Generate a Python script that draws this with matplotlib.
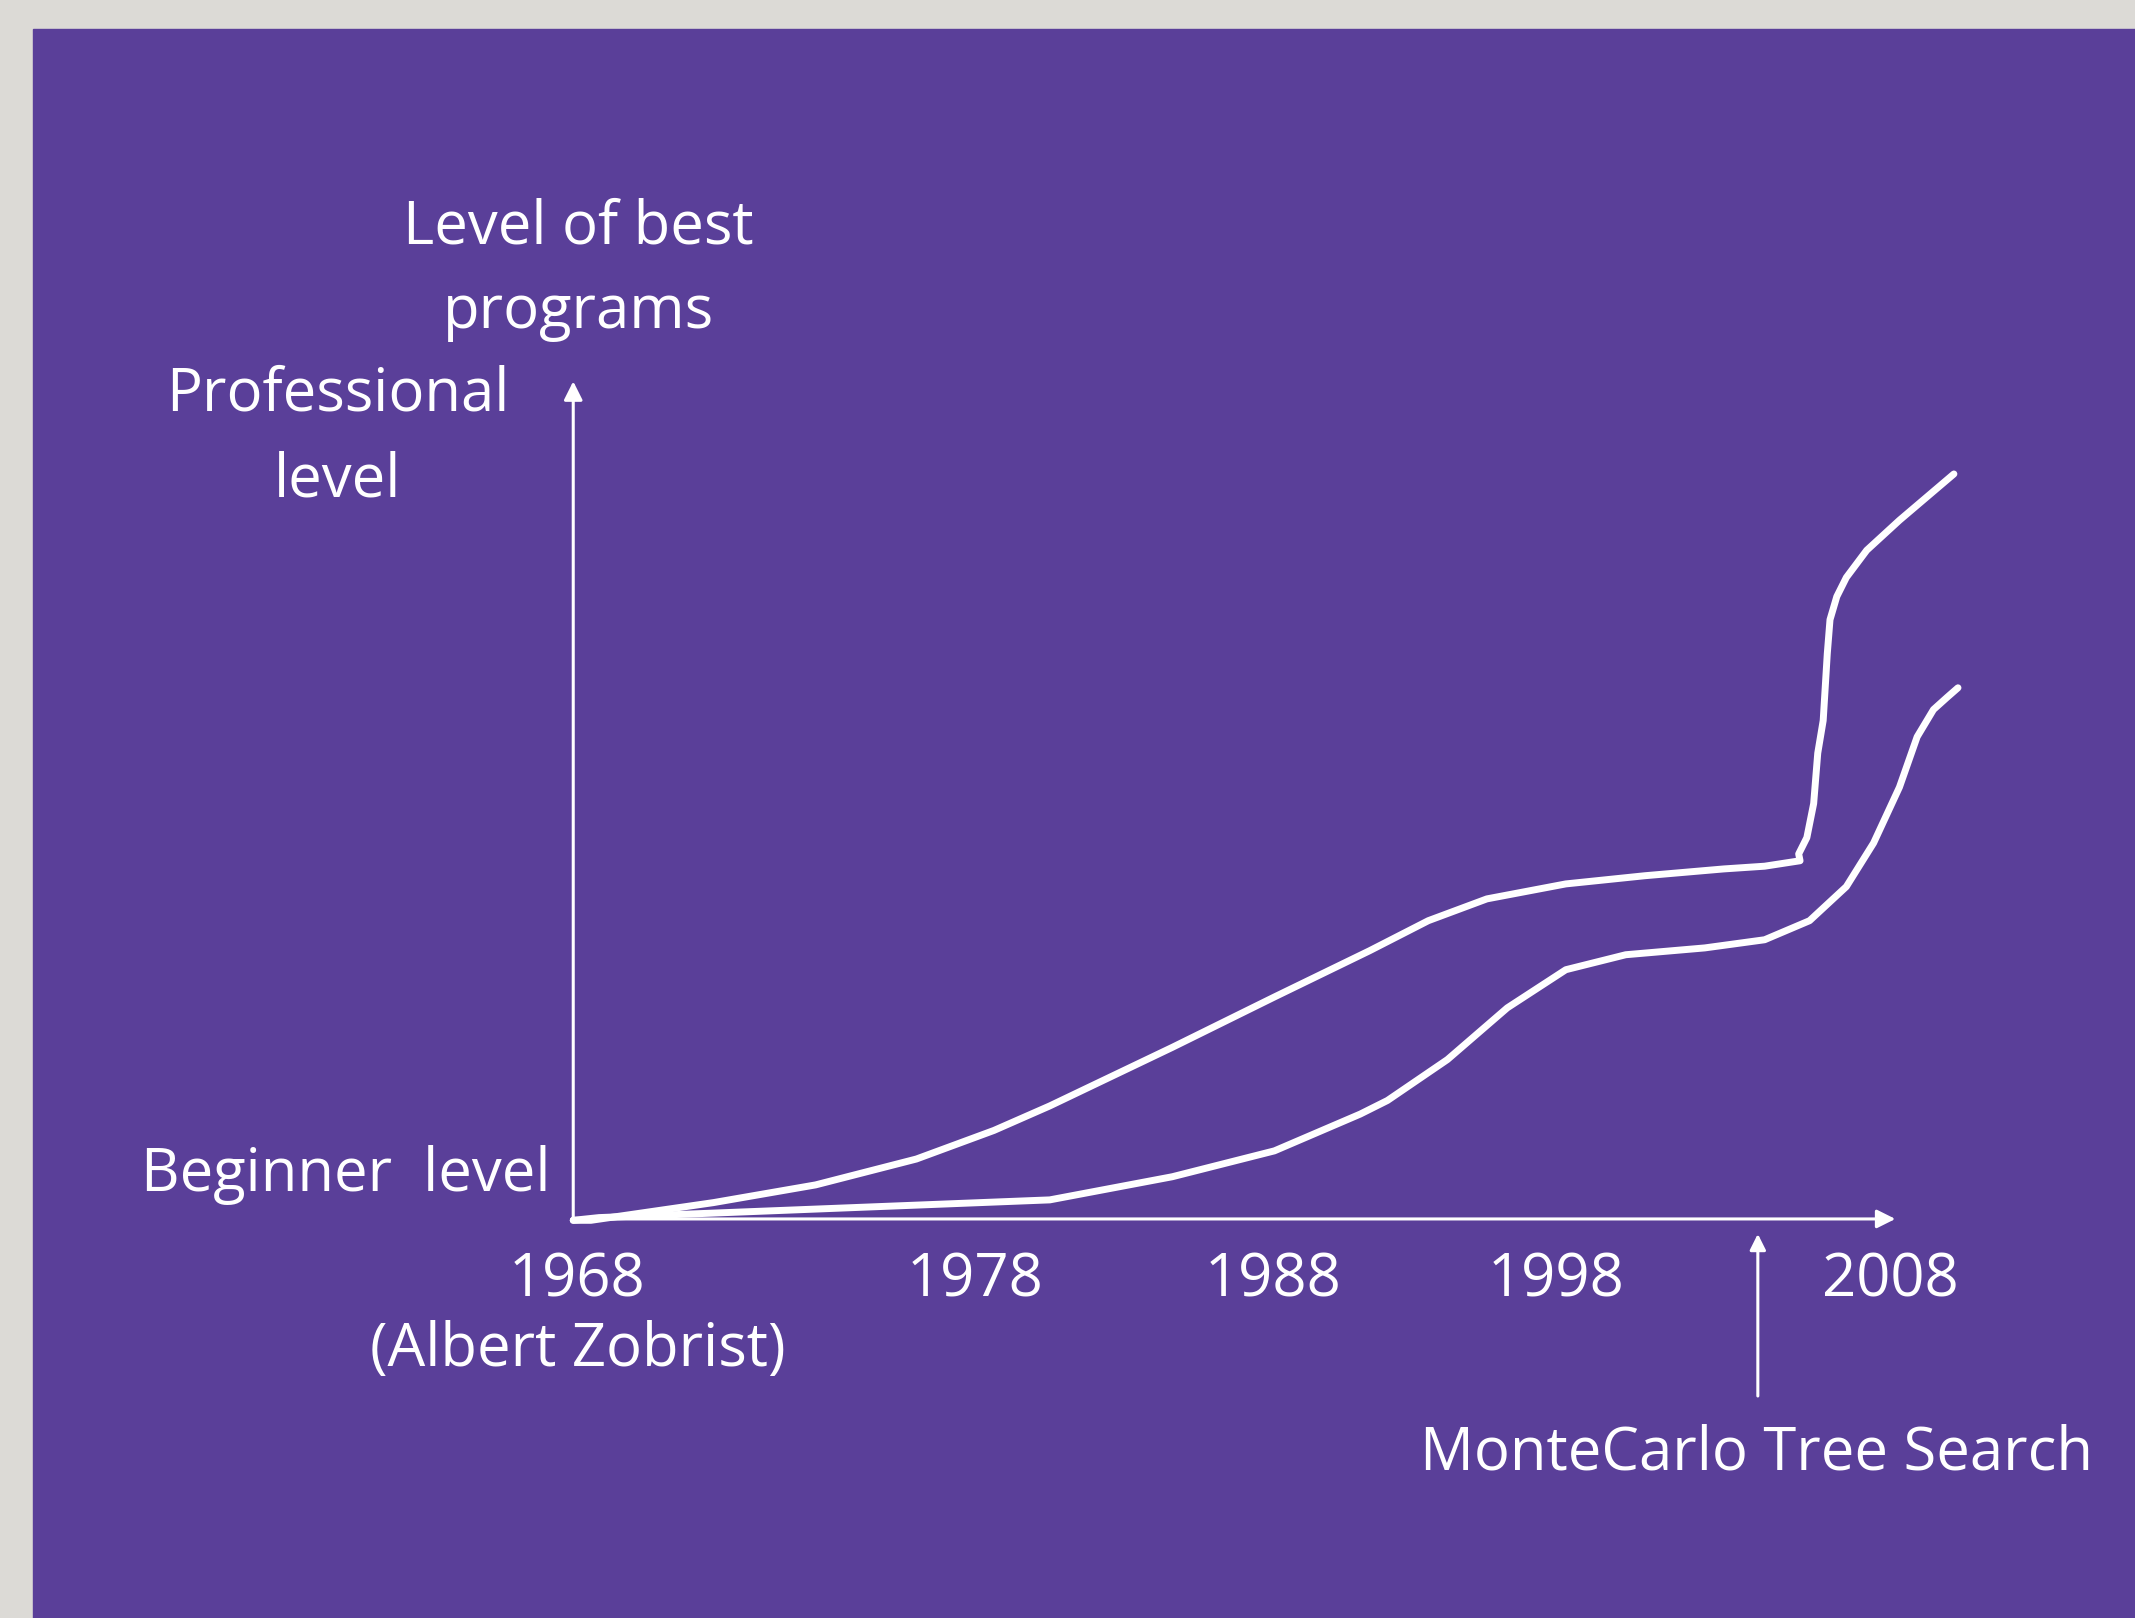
import matplotlib.pyplot as plt
from matplotlib.patches import Rectangle

# drawing frame in screen units of the 1568x1188 view (y grows downwards)
W, H = 1568, 1188

# hand-drawn curves
upper_x = [421, 434, 524, 599, 673, 730, 771, 861, 936, 1006, 1049, 1092,
           1150, 1208, 1266, 1296, 1322, 1321, 1327, 1332, 1335, 1339, 1342,
           1344, 1349, 1356, 1371, 1395, 1435]
upper_y = [896, 896, 883, 870, 851, 830, 812, 769, 732, 698, 676, 660,
           649, 643, 638, 636, 632, 627, 615, 590, 553, 529, 480,
           455, 438, 424, 404, 382, 348]
lower_x = [421, 440, 771, 861, 936, 999, 1019, 1063, 1107, 1150, 1194, 1252,
           1296, 1329, 1356, 1376, 1395, 1408, 1420, 1430, 1438]
lower_y = [896, 894, 881, 864, 845, 818, 808, 778, 740, 712, 701, 696,
           690, 676, 651, 619, 578, 541, 521, 512, 505]

tick_pos = [424, 716, 935, 1143, 1388]
tick_labels = ['1968\n(Albert Zobrist)', '1978', '1988', '1998', '2008']

purple = '#5a3f99'
white = 'white'
font = 'Open Sans'

fig = plt.figure(figsize=(21.35, 16.18), dpi=100)
fig.patch.set_facecolor('#dcdad6')
ax = fig.add_axes([0, 0, 1, 1])
ax.set_xlim(0, W)
ax.set_ylim(H, 0)
ax.axis('off')

ax.add_patch(Rectangle((24, 21), W - 24, H - 21, color=purple, zorder=0))

# axes of the sketch
ax.annotate('', xy=(421, 280), xytext=(421, 896),
            arrowprops=dict(arrowstyle='-|>', color=white, lw=2.2,
                            mutation_scale=28, shrinkA=0, shrinkB=0))
ax.annotate('', xy=(1392, 895), xytext=(420, 895),
            arrowprops=dict(arrowstyle='-|>', color=white, lw=2.2,
                            mutation_scale=28, shrinkA=0, shrinkB=0))

ax.plot(upper_x, upper_y, color=white, lw=5, solid_capstyle='round',
        solid_joinstyle='round')
ax.plot(lower_x, lower_y, color=white, lw=5, solid_capstyle='round',
        solid_joinstyle='round')

fs = 43
for pos, lab in zip(tick_pos, tick_labels):
    ax.text(pos, 918, lab, color=white, fontsize=fs, family=font,
            ha='center', va='top', linespacing=1.22)

ax.text(425, 198, 'Level of best\nprograms', color=white, fontsize=fs,
        family=font, ha='center', va='center', linespacing=1.52)
ax.text(248, 321, 'Professional\nlevel', color=white, fontsize=fs,
        family=font, ha='center', va='center', linespacing=1.56)
ax.text(404, 863, 'Beginner  level', color=white, fontsize=fs,
        family=font, ha='right', va='center')

ax.annotate('', xy=(1291, 906), xytext=(1291, 1025),
            arrowprops=dict(arrowstyle='-|>', color=white, lw=2.2,
                            mutation_scale=24, shrinkA=0, shrinkB=0))
ax.text(1537, 1067, 'MonteCarlo Tree Search', color=white, fontsize=fs,
        family=font, ha='right', va='center')

fig.savefig('out.png', dpi=100, facecolor=fig.get_facecolor())
